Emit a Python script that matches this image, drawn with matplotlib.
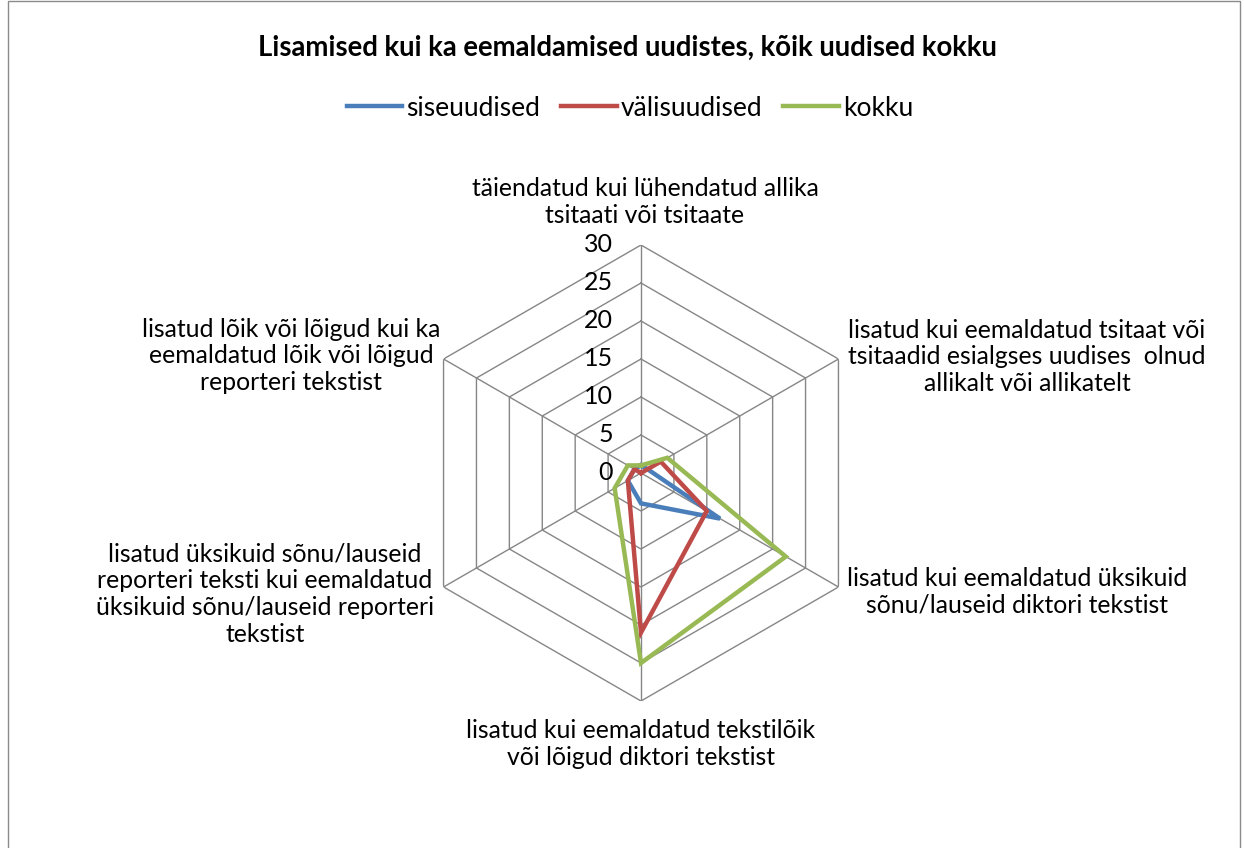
import numpy as np
import matplotlib
matplotlib.use('Agg')
import matplotlib.pyplot as plt
import matplotlib.transforms as mtransforms
from matplotlib.patches import Rectangle

BLUE, RED, GREEN, GRID = '#4a7ebb', '#be4b48', '#98b954', '#868686'
plt.rcParams['font.family'] = ['Lato', 'DejaVu Sans']

TITLE = 'Lisamised kui ka eemaldamised uudistes, kõik uudised kokku'
categories = [
    'täiendatud kui lühendatud allika\ntsitaati või tsitaate',
    'lisatud kui eemaldatud tsitaat või\ntsitaadid esialgses uudises  olnud\nallikalt või allikatelt',
    'lisatud kui eemaldatud üksikuid\nsõnu/lauseid diktori tekstist',
    'lisatud kui eemaldatud tekstilõik\nvõi lõigud diktori tekstist',
    'lisatud üksikuid sõnu/lauseid\nreporteri teksti kui eemaldatud\nüksikuid sõnu/lauseid reporteri\ntekstist',
    'lisatud lõik või lõigud kui ka\neemaldatud lõik või lõigud\nreporteri tekstist',
]
series_names = ['siseuudised', 'välisuudised', 'kokku']
siseuudised = [1, 1, 12, 4, 2, 1]
valisuudised = [0, 3, 10, 21, 2, 1]
kokku = [1, 4, 22, 25, 4, 2]
ticks = [0, 5, 10, 15, 20, 25, 30]

W, H = 1244, 848
fig = plt.figure(figsize=(W / 100, H / 100), dpi=100)

# polar axes centred at (641, 473) px, radius 228 px
cx, cy, R = 641, 473, 228
ax = fig.add_axes([(cx - R) / W, (H - cy - R) / H, 2 * R / W, 2 * R / H], projection='polar')
ax.set_theta_offset(np.pi / 2)
ax.set_theta_direction(-1)
ax.set_ylim(0, 30)
ax.grid(False)
ax.spines['polar'].set_visible(False)
ax.set_xticks([]); ax.set_yticks([])
ax.patch.set_alpha(0)

n = len(categories)
angles = np.arange(n) * 2 * np.pi / n
closed = np.append(angles, angles[0])

for r in ticks[1:]:
    ax.plot(closed, [r] * (n + 1), color=GRID, lw=1.0, zorder=1)
for a in angles:
    ax.plot([a, a], [0, 30], color=GRID, lw=1.0, zorder=1)

off = mtransforms.offset_copy(ax.transData, fig=fig, x=-28, y=0, units='dots')
for t in ticks:
    ax.text(0, t, str(t), transform=off, ha='right', va='center', fontsize=18, color='black')

lines = []
for vals, col, name in zip([siseuudised, valisuudised, kokku], [BLUE, RED, GREEN], series_names):
    v = np.append(vals, vals[0])
    ln, = ax.plot(closed, v, color=col, lw=3.2, label=name, zorder=3, solid_joinstyle='miter')
    lines.append(ln)

# category labels (pixel centres)
label_pos = [(645, 202), (1027, 357), (1017, 592), (641, 744), (265, 594), (291, 356)]
for lab, (px, py) in zip(categories, label_pos):
    fig.text(px / W, 1 - py / H, lab, ha='center', va='center', fontsize=17.8,
             linespacing=1.2, multialignment='center')

fig.text(627 / W, 1 - 48 / H, TITLE, ha='center', va='center', fontsize=19.8, fontweight='bold')
fig.legend(handles=lines, loc='center', bbox_to_anchor=(630 / W, 1 - 108 / H), ncol=3,
           frameon=False, fontsize=19, handlelength=2.1, handletextpad=0.15, columnspacing=0.8)

fig.add_artist(Rectangle((8 / W, -0.1), (1240 - 8) / W, 1.1 - 1.5 / H, transform=fig.transFigure,
                         fill=False, edgecolor='#8a8a8a', lw=1.0))
fig.savefig('out.png', dpi=100)
